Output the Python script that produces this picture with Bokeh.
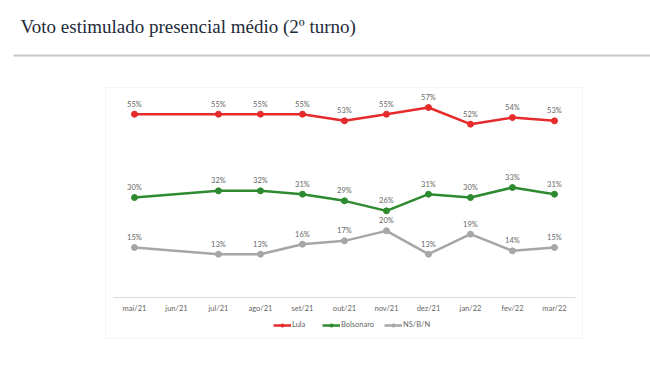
from bokeh.plotting import figure
from bokeh.models import (Range1d, Label, BoxAnnotation, Legend,
                          LegendItem, ColumnDataSource)
from bokeh.embed import file_html
from bokeh.resources import INLINE
from bokeh.core.properties import value

# ---------------- data ----------------
title_text = "Voto estimulado presencial médio (2º turno)"
categories = ["mai/21", "jun/21", "jul/21", "ago/21", "set/21", "out/21",
              "nov/21", "dez/21", "jan/22", "fev/22", "mar/22"]
months = ["mai/21", "jul/21", "ago/21", "set/21", "out/21",
          "nov/21", "dez/21", "jan/22", "fev/22", "mar/22"]
lula = [55, 55, 55, 55, 53, 55, 57, 52, 54, 53]
bolsonaro = [30, 32, 32, 31, 29, 26, 31, 30, 33, 31]
nsbn = [15, 13, 13, 16, 17, 20, 13, 19, 14, 15]
series_names = ["Lula", "Bolsonaro", "NS/B/N"]
series_values = [lula, bolsonaro, nsbn]
series_colors = ["#e52b2b", "#2e8a2f", "#a6a6a6"]

FONT = "Lato"
TXT = "#666666"
W, H = 650, 382

# category index positions (categorical scale done through a numeric range)
cat_idx = list(range(len(categories)))
month_idx = [categories.index(m) for m in months]

p = figure(x_range=Range1d(-3.19, -3.19 + W / 42.0),
           y_range=Range1d(-25.5, -25.5 + H / 3.333),
           frame_width=W, frame_height=H,
           min_border=0, min_border_left=0, min_border_right=0,
           min_border_top=0, min_border_bottom=0,
           x_axis_location=None, y_axis_location=None, title=None,
           toolbar_location=None, output_backend="svg")
p.outline_line_color = None
p.background_fill_color = "white"
p.border_fill_color = "white"
p.xgrid.visible = False
p.ygrid.visible = False

# chart box border
p.add_layout(BoxAnnotation(left=105, right=582, top=295, bottom=44,
                           left_units="screen", right_units="screen",
                           top_units="screen", bottom_units="screen",
                           fill_alpha=0, line_color="#d9d9d9", line_width=1,
                           level="underlay"))
# separator line under title
p.add_layout(BoxAnnotation(left=13, right=W + 5, top=328, bottom=326,
                           left_units="screen", right_units="screen",
                           top_units="screen", bottom_units="screen",
                           fill_color="#c8c8c8", fill_alpha=1, line_color=None,
                           level="underlay"))
# page title
p.add_layout(Label(x=20, y=356, x_units="screen", y_units="screen",
                   text=title_text, text_font="Liberation Serif",
                   text_font_size="19px", text_color="#232a3a",
                   text_align="left", text_baseline="alphabetic"))

# category axis: line + labels
p.segment(x0=[cat_idx[0] - 0.5], y0=[0], x1=[cat_idx[-1] + 0.5], y1=[0],
          line_color="#d9d9d9", line_width=1)
p.text(x=cat_idx, y=[0] * len(cat_idx), text=categories,
       text_align="center", text_baseline="middle", y_offset=11,
       text_font=value(FONT), text_font_size=value("7.5px"), text_color=TXT)

items = []
for name, vals, col in zip(series_names, series_values, series_colors):
    src = ColumnDataSource(dict(x=month_idx, y=vals, t=[f"{v}%" for v in vals]))
    ln = p.line("x", "y", source=src, line_color=col, line_width=2.5)
    sc = p.scatter("x", "y", source=src, size=6, fill_color=col, line_color=col)
    p.text("x", "y", text="t", source=src, text_align="center",
           text_baseline="middle", y_offset=-10,
           text_font=value(FONT), text_font_size=value("7.5px"),
           text_color=TXT)
    items.append(LegendItem(label=name, renderers=[ln, sc]))

legend = Legend(items=items, orientation="horizontal", location=(273, 53),
                glyph_width=18, glyph_height=8, label_standoff=1, spacing=10,
                padding=0, margin=0, border_line_color=None,
                background_fill_alpha=0, label_text_font=FONT,
                label_text_font_size="7.5px", label_text_color=TXT,
                label_height=8)
p.add_layout(legend)

open("out.html", "w").write(file_html(p, INLINE))
